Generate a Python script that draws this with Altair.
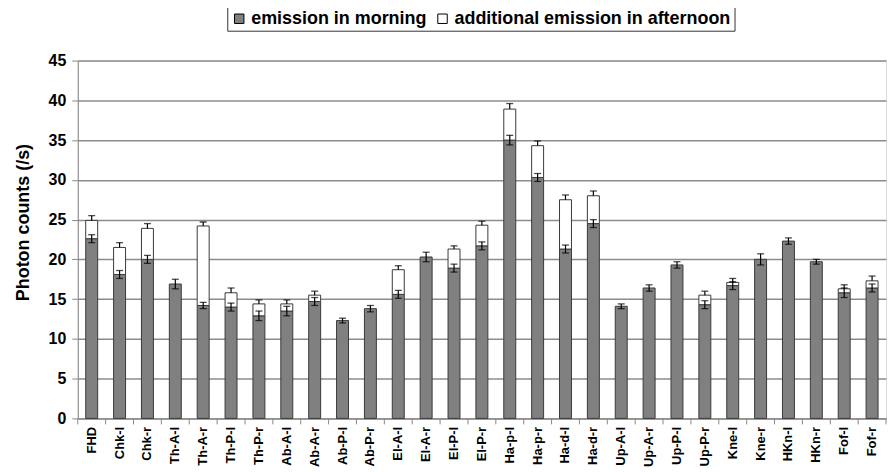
import altair as alt
import pandas as pd

categories = ["FHD", "Chk-l", "Chk-r", "Th-A-l", "Th-A-r", "Th-P-l", "Th-P-r", "Ab-A-l", "Ab-A-r",
              "Ab-P-l", "Ab-P-r", "El-A-l", "El-A-r", "El-P-l", "El-P-r", "Ha-p-l", "Ha-p-r",
              "Ha-d-l", "Ha-d-r", "Up-A-l", "Up-A-r", "Up-P-l", "Up-P-r", "Kne-l", "Kne-r",
              "HKn-l", "HKn-r", "Fof-l", "Fof-r"]
morning = [22.6, 18.1, 20.0, 16.9, 14.2, 14.0, 12.9, 13.5, 14.7,
           12.3, 13.8, 15.6, 20.3, 18.9, 21.7, 35.0, 30.3,
           21.3, 24.5, 14.1, 16.4, 19.3, 14.3, 16.7, 20.0,
           22.3, 19.7, 15.8, 16.4]
afternoon_extra = [2.3, 3.4, 3.9, 0.0, 10.0, 1.8, 1.5, 0.9, 0.8,
                   0.0, 0.0, 3.1, 0.0, 2.4, 2.6, 3.9, 4.0,
                   6.2, 3.5, 0.0, 0.0, 0.0, 1.2, 0.4, 0.0,
                   0.0, 0.0, 0.5, 0.9]
err_morning = [0.5, 0.5, 0.5, 0.6, 0.4, 0.5, 0.6, 0.6, 0.5,
               0.3, 0.4, 0.5, 0.6, 0.5, 0.5, 0.6, 0.5,
               0.5, 0.5, 0.3, 0.4, 0.4, 0.5, 0.5, 0.7,
               0.4, 0.3, 0.6, 0.5]
err_total = [0.6, 0.6, 0.6, 0.0, 0.5, 0.6, 0.5, 0.5, 0.5,
             0.0, 0.0, 0.5, 0.0, 0.4, 0.5, 0.7, 0.6,
             0.6, 0.6, 0.0, 0.0, 0.0, 0.5, 0.5, 0.0,
             0.0, 0.0, 0.5, 0.6]
y_ticks = [0, 5, 10, 15, 20, 25, 30, 35, 40, 45]

S1 = "emission in morning"
S2 = "additional emission in afternoon"

bar_rows = []
for c, m, a in zip(categories, morning, afternoon_extra):
    bar_rows.append({"cat": c, "series": S1, "y0": 0.0, "y1": m})
    if a > 0:
        bar_rows.append({"cat": c, "series": S2, "y0": m, "y1": m + a})
bars_df = pd.DataFrame(bar_rows)

err_m_df = pd.DataFrame({
    "cat": categories,
    "lo": [m - e for m, e in zip(morning, err_morning)],
    "hi": [m + e for m, e in zip(morning, err_morning)],
})
tot_rows = []
for c, m, a, e in zip(categories, morning, afternoon_extra, err_total):
    if a > 0:
        tot_rows.append({"cat": c, "lo": m + a, "hi": m + a + e})
err_t_df = pd.DataFrame(tot_rows)

FONT = "Liberation Sans"
W, H = 811, 359

xs = alt.Scale(domain=categories, paddingInner=0, paddingOuter=0)
ys = alt.Scale(domain=[0, 45], nice=False, zero=True)

x_axis = alt.Axis(title=None, labelAngle=-90, ticks=False, domain=True,
                  domainColor="#888888", labelFont=FONT, labelFontWeight="bold",
                  labelFontSize=13, labelColor="#000", labelPadding=8)
y_axis = alt.Axis(title="Photon counts (/s)", values=y_ticks, labelOverlap=False,
                  grid=True, gridColor="#8c8c8c", gridWidth=1.5,
                  tickSize=6, tickColor="#888888", domainColor="#888888",
                  labelFont=FONT, labelFontWeight="bold", labelFontSize=16,
                  labelColor="#000", labelPadding=6,
                  titleFont=FONT, titleFontWeight="bold", titleFontSize=18,
                  titleColor="#000", titleX=-45, titleY=162)


def xq(**kw):
    return alt.X("cat:N", sort=categories, scale=xs, axis=x_axis, **kw)


def yq(f):
    return alt.Y(f, scale=ys, axis=y_axis)


bars = alt.Chart(bars_df).mark_bar(size=12, stroke="#3a3a3a", strokeWidth=1).encode(
    x=xq(),
    y=yq("y0:Q"),
    y2="y1:Q",
    color=alt.Color("series:N", scale=alt.Scale(domain=[S1, S2], range=["#808080", "#ffffff"]),
                    legend=alt.Legend(title=None, orient="none", legendX=150, legendY=-54,
                                      direction="horizontal", symbolType="square",
                                      symbolSize=90, symbolStrokeColor="#000",
                                      symbolStrokeWidth=1, labelFont=FONT,
                                      labelFontWeight="bold", labelFontSize=18,
                                      labelColor="#000", labelLimit=0,
                                      strokeColor="#333", padding=3,
                                      columnPadding=6, labelOffset=3)),
)

rule_m = alt.Chart(err_m_df).mark_rule(color="#000", strokeWidth=1.2).encode(
    x=xq(), y=yq("lo:Q"), y2="hi:Q")
cap_m_lo = alt.Chart(err_m_df).mark_tick(color="#000", size=7, thickness=1.3).encode(
    x=xq(), y=yq("lo:Q"))
cap_m_hi = alt.Chart(err_m_df).mark_tick(color="#000", size=7, thickness=1.3).encode(
    x=xq(), y=yq("hi:Q"))
rule_t = alt.Chart(err_t_df).mark_rule(color="#000", strokeWidth=1.2).encode(
    x=xq(), y=yq("lo:Q"), y2="hi:Q")
cap_t = alt.Chart(err_t_df).mark_tick(color="#000", size=7, thickness=1.3).encode(
    x=xq(), y=yq("hi:Q"))

tick_df = pd.DataFrame({"cat": categories})
xticks = alt.Chart(tick_df).mark_rule(color="#888888", strokeWidth=1).encode(
    x=xq(bandPosition=0), y=alt.value(H), y2=alt.value(H + 6))
xtick_end = alt.Chart(pd.DataFrame({"cat": [categories[-1]]})).mark_rule(
    color="#888888", strokeWidth=1).encode(
    x=xq(bandPosition=1), y=alt.value(H), y2=alt.value(H + 6))

chart = alt.layer(bars, rule_m, cap_m_lo, cap_m_hi, rule_t, cap_t, xticks, xtick_end).properties(
    width=W, height=H,
    autosize=alt.AutoSizeParams(type="none"),
    padding={"left": 70, "top": 52, "right": 2, "bottom": 50},
).configure_view(stroke="#aaaaaa", strokeWidth=1.5).configure(background="white")

chart.save("out.html", embed_options={"renderer": "svg", "actions": False})
